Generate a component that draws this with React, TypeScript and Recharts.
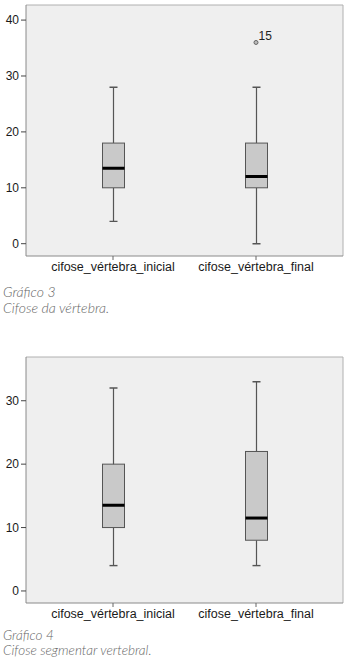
import React from "react";
import { ComposedChart, Bar, Scatter, XAxis, YAxis, CartesianGrid } from "recharts";

const CATEGORIES = ["cifose_vértebra_inicial", "cifose_vértebra_final"];

// Gráfico 3 - Cifose da vértebra
const G3_MIN = [4, 0];
const G3_Q1 = [10, 10];
const G3_MEDIAN = [13.5, 12];
const G3_Q3 = [18, 18];
const G3_MAX = [28, 28];
const G3_OUTLIER = [null, 36];
const G3_OUTLIER_CASE = [null, "15"];
const G3_TICKS = [0, 10, 20, 30, 40];

// Gráfico 4 - Cifose segmentar vertebral
const G4_MIN = [4, 4];
const G4_Q1 = [10, 8];
const G4_MEDIAN = [13.5, 11.5];
const G4_Q3 = [20, 22];
const G4_MAX = [32, 33];
const G4_TICKS = [0, 10, 20, 30];

const FONT = '"Liberation Sans", Arial, sans-serif';
const BOX_FILL = "#c9c9c9";
const BOX_STROKE = "#555";
const FRAME = "#8a8a8a";

function buildRows(
  min: number[],
  q1: number[],
  med: number[],
  q3: number[],
  max: number[],
  outlier?: (number | null)[],
  outlierCase?: (string | null)[]
) {
  return CATEGORIES.map((name, i) => ({
    name,
    base: min[i],
    lowerWhisker: q1[i] - min[i],
    lowerBox: med[i] - q1[i],
    upperBox: q3[i] - med[i],
    upperWhisker: max[i] - q3[i],
    outlier: outlier ? outlier[i] : null,
    outlierCase: outlierCase ? outlierCase[i] : null,
  }));
}

const LowerWhisker = (p: any) => {
  const cx = p.x + p.width / 2;
  const yb = p.y + p.height;
  return (
    <g>
      <line x1={cx} x2={cx} y1={p.y} y2={yb} stroke={BOX_STROKE} strokeWidth={1.2} />
      <line x1={cx - 4} x2={cx + 4} y1={yb} y2={yb} stroke={BOX_STROKE} strokeWidth={1.4} />
    </g>
  );
};

const UpperWhisker = (p: any) => {
  const cx = p.x + p.width / 2;
  return (
    <g>
      <line x1={cx} x2={cx} y1={p.y} y2={p.y + p.height} stroke={BOX_STROKE} strokeWidth={1.2} />
      <line x1={cx - 4} x2={cx + 4} y1={p.y} y2={p.y} stroke={BOX_STROKE} strokeWidth={1.4} />
    </g>
  );
};

const LowerBox = (p: any) => (
  <rect x={p.x} y={p.y} width={p.width} height={p.height} fill={BOX_FILL} stroke={BOX_STROKE} strokeWidth={1} />
);

const UpperBox = (p: any) => (
  <g>
    <rect x={p.x} y={p.y} width={p.width} height={p.height} fill={BOX_FILL} stroke={BOX_STROKE} strokeWidth={1} />
    <line x1={p.x} x2={p.x + p.width} y1={p.y + p.height} y2={p.y + p.height} stroke="#000" strokeWidth={3} />
  </g>
);

const Outlier = (p: any) => {
  if (p.payload == null || p.payload.outlier == null) return <g />;
  return (
    <g>
      <circle cx={p.cx} cy={p.cy} r={2} fill="#bbb" stroke="#666" strokeWidth={1} />
      <text x={p.cx + 2.5} y={p.cy - 2} fontSize={12} fontFamily={FONT} fill="#222">
        {p.payload.outlierCase}
      </text>
    </g>
  );
};

// top and right edges of the plot frame
const topEdge = ({ offset }: any) => [offset.top];
const rightEdge = ({ offset }: any) => [offset.left + offset.width];

function BoxChart({ data, ticks, domain, height, top }: any) {
  return (
    <ComposedChart
      width={348}
      height={height}
      data={data}
      margin={{ top, right: 5, left: 0, bottom: 0 }}
      barSize={22}
    >
      <CartesianGrid
        fill="#efefef"
        stroke="#b0b0b0"
        horizontalCoordinatesGenerator={topEdge}
        verticalCoordinatesGenerator={rightEdge}
      />
      <XAxis
        dataKey="name"
        padding={{ left: 15.5, right: 15.5 }}
        height={24}
        tickSize={4}
        tickLine={{ stroke: "#666" }}
        axisLine={{ stroke: FRAME }}
        tick={{ fill: "#1a1a1a", fontSize: 12.5, fontFamily: FONT }}
        interval={0}
      />
      <YAxis
        type="number"
        domain={domain}
        ticks={ticks}
        width={26}
        tickSize={5}
        tickLine={{ stroke: "#444" }}
        axisLine={{ stroke: FRAME }}
        tick={{ fill: "#1a1a1a", fontSize: 12, fontFamily: FONT }}
        allowDataOverflow
      />
      <Bar dataKey="base" stackId="box" fill="transparent" isAnimationActive={false} />
      <Bar dataKey="lowerWhisker" stackId="box" shape={LowerWhisker} isAnimationActive={false} />
      <Bar dataKey="lowerBox" stackId="box" shape={LowerBox} isAnimationActive={false} />
      <Bar dataKey="upperBox" stackId="box" shape={UpperBox} isAnimationActive={false} />
      <Bar dataKey="upperWhisker" stackId="box" shape={UpperWhisker} isAnimationActive={false} />
      <Scatter dataKey="outlier" shape={Outlier} isAnimationActive={false} />
    </ComposedChart>
  );
}

const captionStyle: React.CSSProperties = {
  position: "absolute",
  left: 3,
  fontFamily: 'Lato, "Open Sans", sans-serif',
  fontStyle: "italic",
  fontWeight: 300,
  fontSize: 14,
  lineHeight: "15.5px",
  color: "#666",
  whiteSpace: "nowrap",
};

export default function App() {
  const g3 = buildRows(G3_MIN, G3_Q1, G3_MEDIAN, G3_Q3, G3_MAX, G3_OUTLIER, G3_OUTLIER_CASE);
  const g4 = buildRows(G4_MIN, G4_Q1, G4_MEDIAN, G4_Q3, G4_MAX);
  return (
    <div style={{ position: "absolute", left: 0, top: 0, width: 348, height: 659, background: "#fff", overflow: "hidden" }}>
      <div style={{ position: "absolute", left: 0, top: 0 }}>
        <BoxChart data={g3} ticks={G3_TICKS} domain={[-2.2, 42.7]} height={280} top={5} />
      </div>
      <div style={{ ...captionStyle, top: 284 }}>
        Gráfico 3
        <br />
        Cifose da vértebra.
      </div>
      <div style={{ position: "absolute", left: 0, top: 330 }}>
        <BoxChart data={g4} ticks={G4_TICKS} domain={[-1.9, 36.9]} height={297} top={27} />
      </div>
      <div style={{ ...captionStyle, top: 628, fontSize: 13.5, lineHeight: "15px" }}>
        Gráfico 4
        <br />
        Cifose segmentar vertebral.
      </div>
    </div>
  );
}
